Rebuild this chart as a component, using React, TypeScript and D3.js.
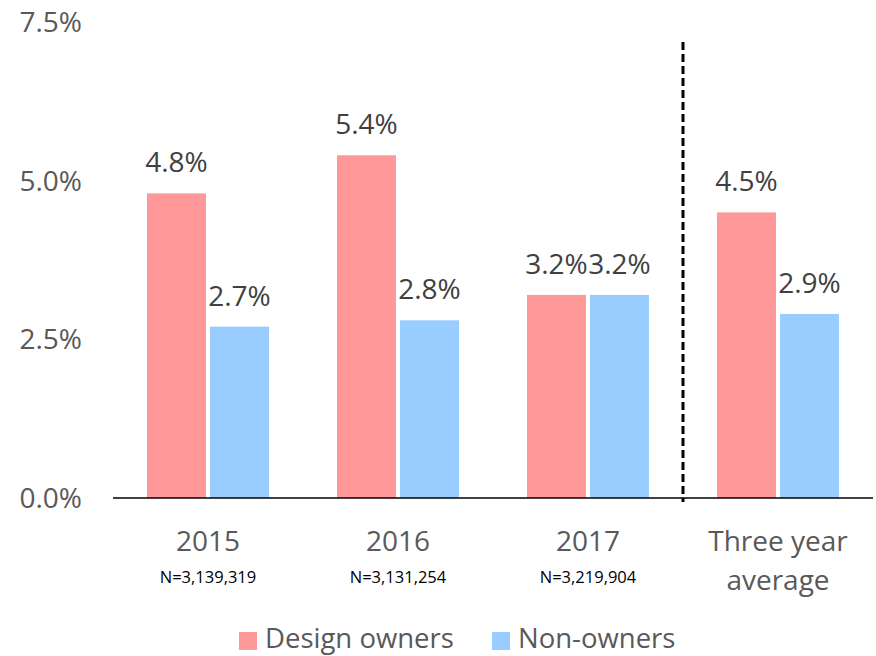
import React from "react";
import * as d3 from "d3";

const categories = ["2015", "2016", "2017", "Three year average"];
const categoryLines = [["2015"], ["2016"], ["2017"], ["Three year", "average"]];
const sampleLabels = ["N=3,139,319", "N=3,131,254", "N=3,219,904", ""];
const seriesNames = ["Design owners", "Non-owners"];
const designOwners = [4.8, 5.4, 3.2, 4.5];
const nonOwners = [2.7, 2.8, 3.2, 2.9];
const yTicks = [0, 2.5, 5.0, 7.5];
const colors = ["#FF9999", "#99CCFF"];

const W = 876;
const H = 656;
const FONT = "'Open Sans', Lato, sans-serif";

export default function App() {
  const left = 113, right = 873, top = 22, bottom = 498;
  const x = d3.scaleBand<string>().domain(categories).range([left, right]).paddingInner(0).paddingOuter(0);
  const y = d3.scaleLinear().domain([0, 7.5]).range([bottom, top]);
  const bw = 59, gap = 4;
  const series = [designOwners, nonOwners];
  const fmt = (v: number) => v.toFixed(1) + "%";
  const dashX = x("Three year average")!;

  return (
    <svg width={W} height={H} style={{ position: "absolute", left: 0, top: 0, background: "#fff" }}>
      <rect x={0} y={0} width={W} height={H} fill="#fff" />
      {yTicks.map((t) => (
        <text key={t} x={82} y={y(t) + 10} textAnchor="end" fontFamily={FONT} fontSize={28} fill="#595959">
          {fmt(t)}
        </text>
      ))}
      {categories.map((c, i) => {
        const cx = x(c)! + x.bandwidth() / 2;
        return (
          <g key={c}>
            {series.map((s, j) => {
              const bx = cx - bw - gap / 2 + j * (bw + gap);
              return (
                <g key={j}>
                  <rect x={bx} y={y(s[i])} width={bw} height={bottom - y(s[i])} fill={colors[j]} />
                  <text x={bx + bw / 2} y={y(s[i]) - 21} textAnchor="middle" fontFamily={FONT} fontSize={28} fill="#404040">
                    {fmt(s[i])}
                  </text>
                </g>
              );
            })}
            {categoryLines[i].map((line, k) => (
              <text key={k} x={cx} y={551 + k * 39} textAnchor="middle" fontFamily={FONT} fontSize={28} fill="#595959">
                {line}
              </text>
            ))}
            {sampleLabels[i] && (
              <text x={cx} y={583} textAnchor="middle" fontFamily={FONT} fontSize={16.5} fill="#000">
                {sampleLabels[i]}
              </text>
            )}
          </g>
        );
      })}
      <line x1={left} x2={right} y1={bottom} y2={bottom} stroke="#000" strokeWidth={1.5} />
      <line x1={dashX} x2={dashX} y1={42} y2={502} stroke="#000" strokeWidth={3} strokeDasharray="8,4" />
      {seriesNames.map((n, j) => {
        const lx = j === 0 ? 239 : 492;
        return (
          <g key={n}>
            <rect x={lx} y={632} width={18} height={18} fill={colors[j]} />
            <text x={lx + 26} y={647.5} fontFamily={FONT} fontSize={27.5} fill="#595959">
              {n}
            </text>
          </g>
        );
      })}
    </svg>
  );
}
